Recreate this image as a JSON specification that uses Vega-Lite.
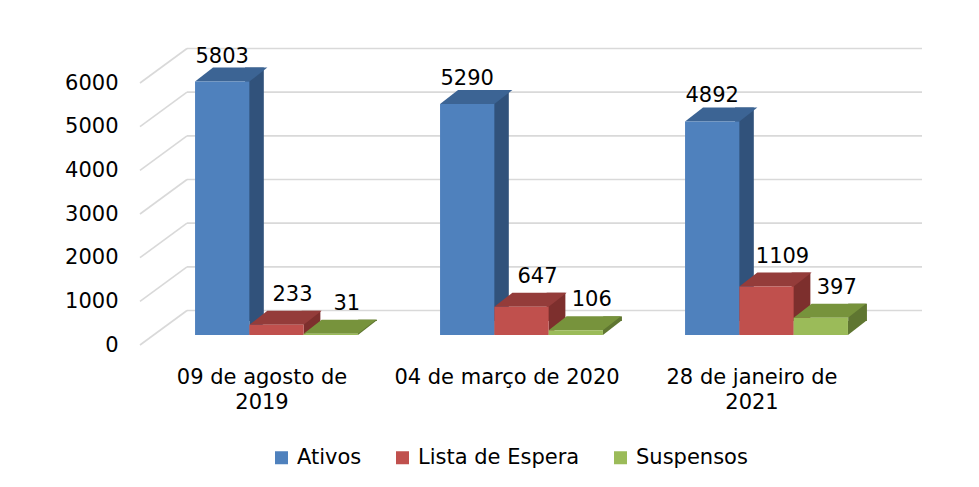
{
  "$schema": "https://vega.github.io/schema/vega-lite/v6.json",
  "autosize": "none",
  "width": 735,
  "height": 262,
  "padding": {"left": 140, "top": 83, "right": 104, "bottom": 142},
  "background": "white",
  "config": {"view": {"stroke": null}, "font": "DejaVu Sans"},
  "datasets": {
    "barras": [
      {"periodo": "09 de agosto de 2019", "serie": "Ativos", "valor": 5803},
      {"periodo": "09 de agosto de 2019", "serie": "Lista de Espera", "valor": 233},
      {"periodo": "09 de agosto de 2019", "serie": "Suspensos", "valor": 31},
      {"periodo": "04 de março de 2020", "serie": "Ativos", "valor": 5290},
      {"periodo": "04 de março de 2020", "serie": "Lista de Espera", "valor": 647},
      {"periodo": "04 de março de 2020", "serie": "Suspensos", "valor": 106},
      {"periodo": "28 de janeiro de 2021", "serie": "Ativos", "valor": 4892},
      {"periodo": "28 de janeiro de 2021", "serie": "Lista de Espera", "valor": 1109},
      {"periodo": "28 de janeiro de 2021", "serie": "Suspensos", "valor": 397}
    ],
    "grade": [{"v": 0}, {"v": 1000}, {"v": 2000}, {"v": 3000}, {"v": 4000}, {"v": 5000}, {"v": 6000}]
  },
  "layer": [
    {
      "data": {"name": "grade"},
      "mark": {"type": "rule", "color": "#d9d9d9", "strokeWidth": 1.6, "yOffset": -34.5, "y2Offset": -34.5},
      "encoding": {
        "y": {"field": "v", "type": "quantitative", "scale": {"domain": [0, 6000], "nice": false},
          "axis": {"title": null, "domain": false, "ticks": false, "grid": false, "values": [0, 1000, 2000, 3000, 4000, 5000, 6000], "format": "d", "labelFontSize": 21, "labelPadding": 22, "labelColor": "#000000"}},
        "x": {"value": 47},
        "x2": {"value": 782}
      }
    },
    {
      "data": {"name": "grade"},
      "mark": {"type": "rule", "color": "#d9d9d9", "strokeWidth": 1.6, "y2Offset": -34.5},
      "encoding": {
        "y": {"field": "v", "type": "quantitative"},
        "y2": {"field": "v"},
        "x": {"value": 0},
        "x2": {"value": 47}
      }
    },
    {
      "data": {"name": "barras"},
      "layer": [
        {
          "mark": {"type": "bar", "yOffset": -24, "y2Offset": -24},
          "encoding": {
            "xOffset": {"field": "serie", "type": "nominal", "sort": ["Ativos", "Lista de Espera", "Suspensos"],
              "scale": {"type": "band", "domain": ["Ativos", "Lista de Espera", "Suspensos"], "paddingInner": 0.6685, "paddingOuter": 1.09, "align": 0.805}},
            "y2": {"datum": 0},
            "color": {"field": "serie", "type": "nominal", "legend": null,
              "scale": {"domain": ["Ativos", "Lista de Espera", "Suspensos"], "range": ["#31527b", "#7d2f2d", "#5f7631"]}}
          }
        },
        {
          "mark": {"type": "point", "filled": true, "opacity": 1, "size": 4, "strokeWidth": 0, "yOffset": -10,
            "shape": "M27.15,-14L45.15,-14L27.15,0Z"},
          "encoding": {
            "y": {"datum": 0},
            "color": {"field": "serie", "type": "nominal", "legend": null,
              "scale": {"domain": ["Ativos", "Lista de Espera", "Suspensos"], "range": ["#31527b", "#7d2f2d", "#5f7631"]}}
          }
        },
        {
          "mark": {"type": "point", "filled": true, "opacity": 1, "size": 4, "strokeWidth": 0, "yOffset": -10,
            "shape": "M-27.15,0L27.15,0L45.15,-14L-9.15,-14Z"},
          "encoding": {
            "color": {"field": "serie", "type": "nominal", "legend": null,
              "scale": {"domain": ["Ativos", "Lista de Espera", "Suspensos"], "range": ["#3c6494", "#943c3a", "#77933c"]}}
          }
        },
        {
          "mark": {"type": "bar", "yOffset": -10, "y2Offset": -10},
          "encoding": {
            "y2": {"datum": 0},
            "color": {"field": "serie", "type": "nominal",
              "scale": {"domain": ["Ativos", "Lista de Espera", "Suspensos"], "range": ["#4f81bd", "#c0504d", "#9bbb59"]},
              "legend": {"title": null, "orient": "none", "legendX": 131, "legendY": 364, "direction": "horizontal",
                "symbolType": "square", "symbolSize": 169, "symbolStrokeWidth": 0, "labelFontSize": 21, "labelOffset": 5,
                "labelLimit": 400, "columnPadding": 30, "padding": 0, "labelColor": "#000000"}}
          }
        },
        {
          "transform": [{"filter": "datum.serie == 'Ativos'"}],
          "mark": {"type": "text", "fontSize": 21, "color": "#000000", "baseline": "middle", "dy": -35},
          "encoding": {"text": {"field": "valor", "type": "quantitative", "format": "d"}}
        },
        {
          "transform": [{"filter": "datum.serie != 'Ativos'"}],
          "mark": {"type": "text", "fontSize": 21, "color": "#000000", "baseline": "middle", "dx": 16, "dy": -40},
          "encoding": {"text": {"field": "valor", "type": "quantitative", "format": "d"}}
        }
      ],
      "encoding": {
        "x": {"field": "periodo", "type": "nominal",
          "sort": ["09 de agosto de 2019", "04 de março de 2020", "28 de janeiro de 2021"],
          "scale": {"type": "band", "paddingInner": 0, "paddingOuter": 0, "range": [14, 749]},
          "axis": {"title": null, "labelAngle": 0, "domain": false, "ticks": false, "labelFontSize": 21, "labelColor": "#000000",
            "labelPadding": 21, "labelLineHeight": 25, "labelLimit": 400, "labelOffset": -14.5,
            "labelExpr": "datum.value == '09 de agosto de 2019' ? ['09 de agosto de', '2019'] : datum.value == '28 de janeiro de 2021' ? ['28 de janeiro de', '2021'] : datum.value"}},
        "xOffset": {"field": "serie", "type": "nominal", "sort": ["Ativos", "Lista de Espera", "Suspensos"],
          "scale": {"type": "band", "domain": ["Ativos", "Lista de Espera", "Suspensos"], "paddingInner": 0, "paddingOuter": 0.756}},
        "y": {"field": "valor", "type": "quantitative"}
      },
      "resolve": {"scale": {"color": "independent", "xOffset": "independent"}}
    }
  ],
  "resolve": {"scale": {"color": "independent"}}
}
